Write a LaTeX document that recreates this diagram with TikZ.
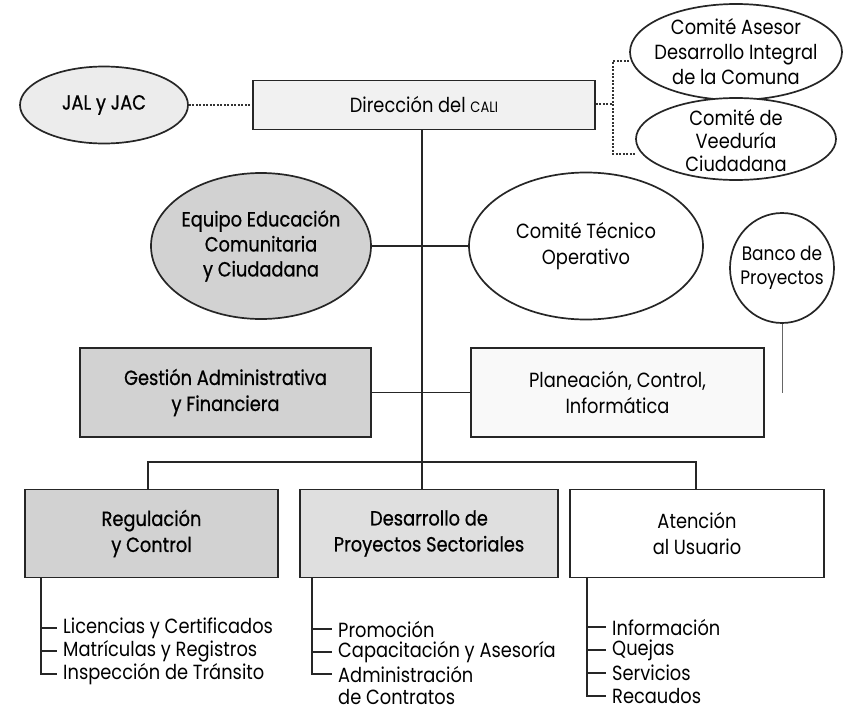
\documentclass[tikz,border=0pt]{standalone}
\usepackage{fontspec}
\setmainfont{Poppins}[FakeStretch=0.87]
\newfontfamily\heavyfont{Poppins}[FakeStretch=0.87,FakeBold=0.7]
\usetikzlibrary{shapes.geometric,backgrounds}
\begin{document}
\begin{tikzpicture}[x=1pt,y=-1pt,
  every node/.style={font=\fontsize{20.5}{26}\selectfont, align=center, inner sep=0pt},
  heavy/.style={font=\heavyfont\fontsize{20.5}{26}\selectfont},
  frame/.style={draw=black!85, line width=1.8pt, rectangle},
  oval/.style={draw=black!85, line width=1.7pt, ellipse, fill=white},
  conn/.style={draw=black!85, line width=1.4pt},
  dots/.style={draw=black!80, line width=1.1pt, dash pattern=on 2pt off 1.5pt},
  item/.style={anchor=west, font=\fontsize{20.5}{24}\selectfont},
  dark/.style={fill=gray!35}, mid/.style={fill=gray!25}, light/.style={fill=gray!15}, pale/.style={fill=gray!5}]
\useasboundingbox (0,0) rectangle (847,715);

% top row
\node[oval,light,minimum width=168pt,minimum height=77pt] (jal) at (104,105) {};
\node[heavy] at (jal.center) {JAL y JAC};
\node[frame,fill=gray!11,minimum width=342pt,minimum height=49pt] (dir) at (424,105) {Dirección del {\fontsize{15}{15}\selectfont CALI}};
\node[oval,minimum width=212pt,minimum height=96pt] (ase) at (736,52) {};
\node[font=\fontsize{20.5}{25}\selectfont] at (ase.center) {Comité Asesor\\Desarrollo Integral\\de la Comuna};
\node[oval,minimum width=200pt,minimum height=82pt] (vee) at (736,139) {};
\node[font=\fontsize{20.5}{23}\selectfont] at ([yshift=-2pt]vee.center) {Comité de\\Veeduría\\Ciudadana};

% second row
\node[oval,dark,minimum width=220pt,minimum height=146pt] (equ) at (261,246) {};
\node[font=\heavyfont\fontsize{20.5}{25}\selectfont] at (equ.center) {Equipo Educación\\Comunitaria\\y Ciudadana};
\node[oval,minimum width=234pt,minimum height=147pt] (tec) at (586,246) {};
\node at (tec.center) {Comité Técnico\\Operativo};
\node[oval,minimum width=104pt,minimum height=110pt] (ban) at (782,268) {};
\node[font=\fontsize{19.5}{24}\selectfont] at (ban.center) {Banco de\\Proyectos};
\coordinate (banend) at (782,393);

% third row
\node[frame,dark,heavy,minimum width=291pt,minimum height=89pt] (ges) at (225.5,392.5) {Gestión Administrativa\\y Financiera};
\node[frame,pale,minimum width=293pt,minimum height=89pt] (pla) at (617.5,392.5) {Planeación, Control,\\Informática};

% bottom row
\node[frame,dark,heavy,minimum width=253pt,minimum height=88pt] (reg) at (151.5,533.5) {Regulación\\y Control};
\node[frame,mid,heavy,minimum width=258pt,minimum height=88pt] (des) at (429,533.5) {Desarrollo de\\Proyectos Sectoriales};
\node[frame,fill=white,minimum width=254pt,minimum height=88pt] (ate) at (697,533.5) {Atención\\al Usuario};

% sub items
\node[item] (r1) at (63,628) {Licencias y Certificados};
\node[item] (r2) at (63,651) {Matrículas y Registros};
\node[item] (r3) at (63,674) {Inspección de Tránsito};
\node[item] (d1) at (338,629) {Promoción};
\node[item] (d2) at (338,652) {Capacitación y Asesoría};
\node[item] (d3) at (338,674) {Administración};
\node[item] (d4) at (338,697) {de Contratos};
\node[item] (a1) at (612,627) {Información};
\node[item] (a2) at (612,650) {Quejas};
\node[item] (a3) at (612,673) {Servicios};
\node[item] (a4) at (612,696) {Recaudos};

\coordinate (trunk) at (422,462);
\coordinate (busl) at (148,462);
\coordinate (busr) at (696,462);
\coordinate (dj) at (613,104);
\coordinate (dja) at (613,61);
\coordinate (djv) at (613,154);
\coordinate (rt) at ([xshift=17pt]reg.south west);
\coordinate (dt) at ([xshift=13pt]des.south west);
\coordinate (at) at ([xshift=18pt]ate.south west);

\begin{pgfonlayer}{background}
\draw[dots] (jal.east) -- (jal.east -| dir.west);
\draw[dots] (dir.east |- dj) -- (dj);
\draw[dots] (dja -| ase.west) -- (dja) -- (djv) -- (djv -| vee.west);
\draw[conn] (dir.south -| trunk) -- (trunk |- des.north);
\draw[conn] (equ.east) -- (tec.west);
\draw[conn] (ges.east) -- (pla.west);
\draw[conn] (busl |- reg.north) -- (busl) -- (busr) -- (busr |- ate.north);
\draw[draw=black!60, line width=0.9pt] (ban.south) -- (banend);
\draw[conn] (rt) |- ([xshift=-6pt]r3.west);
\draw[conn] (rt |- r1.west) -- ([xshift=-6pt]r1.west);
\draw[conn] (rt |- r2.west) -- ([xshift=-6pt]r2.west);
\draw[conn] (dt) |- ([xshift=-6pt]d3.west);
\draw[conn] (dt |- d1.west) -- ([xshift=-6pt]d1.west);
\draw[conn] (dt |- d2.west) -- ([xshift=-6pt]d2.west);
\draw[conn] (at) |- ([xshift=-6pt]a4.west);
\draw[conn] (at |- a1.west) -- ([xshift=-6pt]a1.west);
\draw[conn] (at |- a2.west) -- ([xshift=-6pt]a2.west);
\draw[conn] (at |- a3.west) -- ([xshift=-6pt]a3.west);
\end{pgfonlayer}
\end{tikzpicture}
\end{document}
